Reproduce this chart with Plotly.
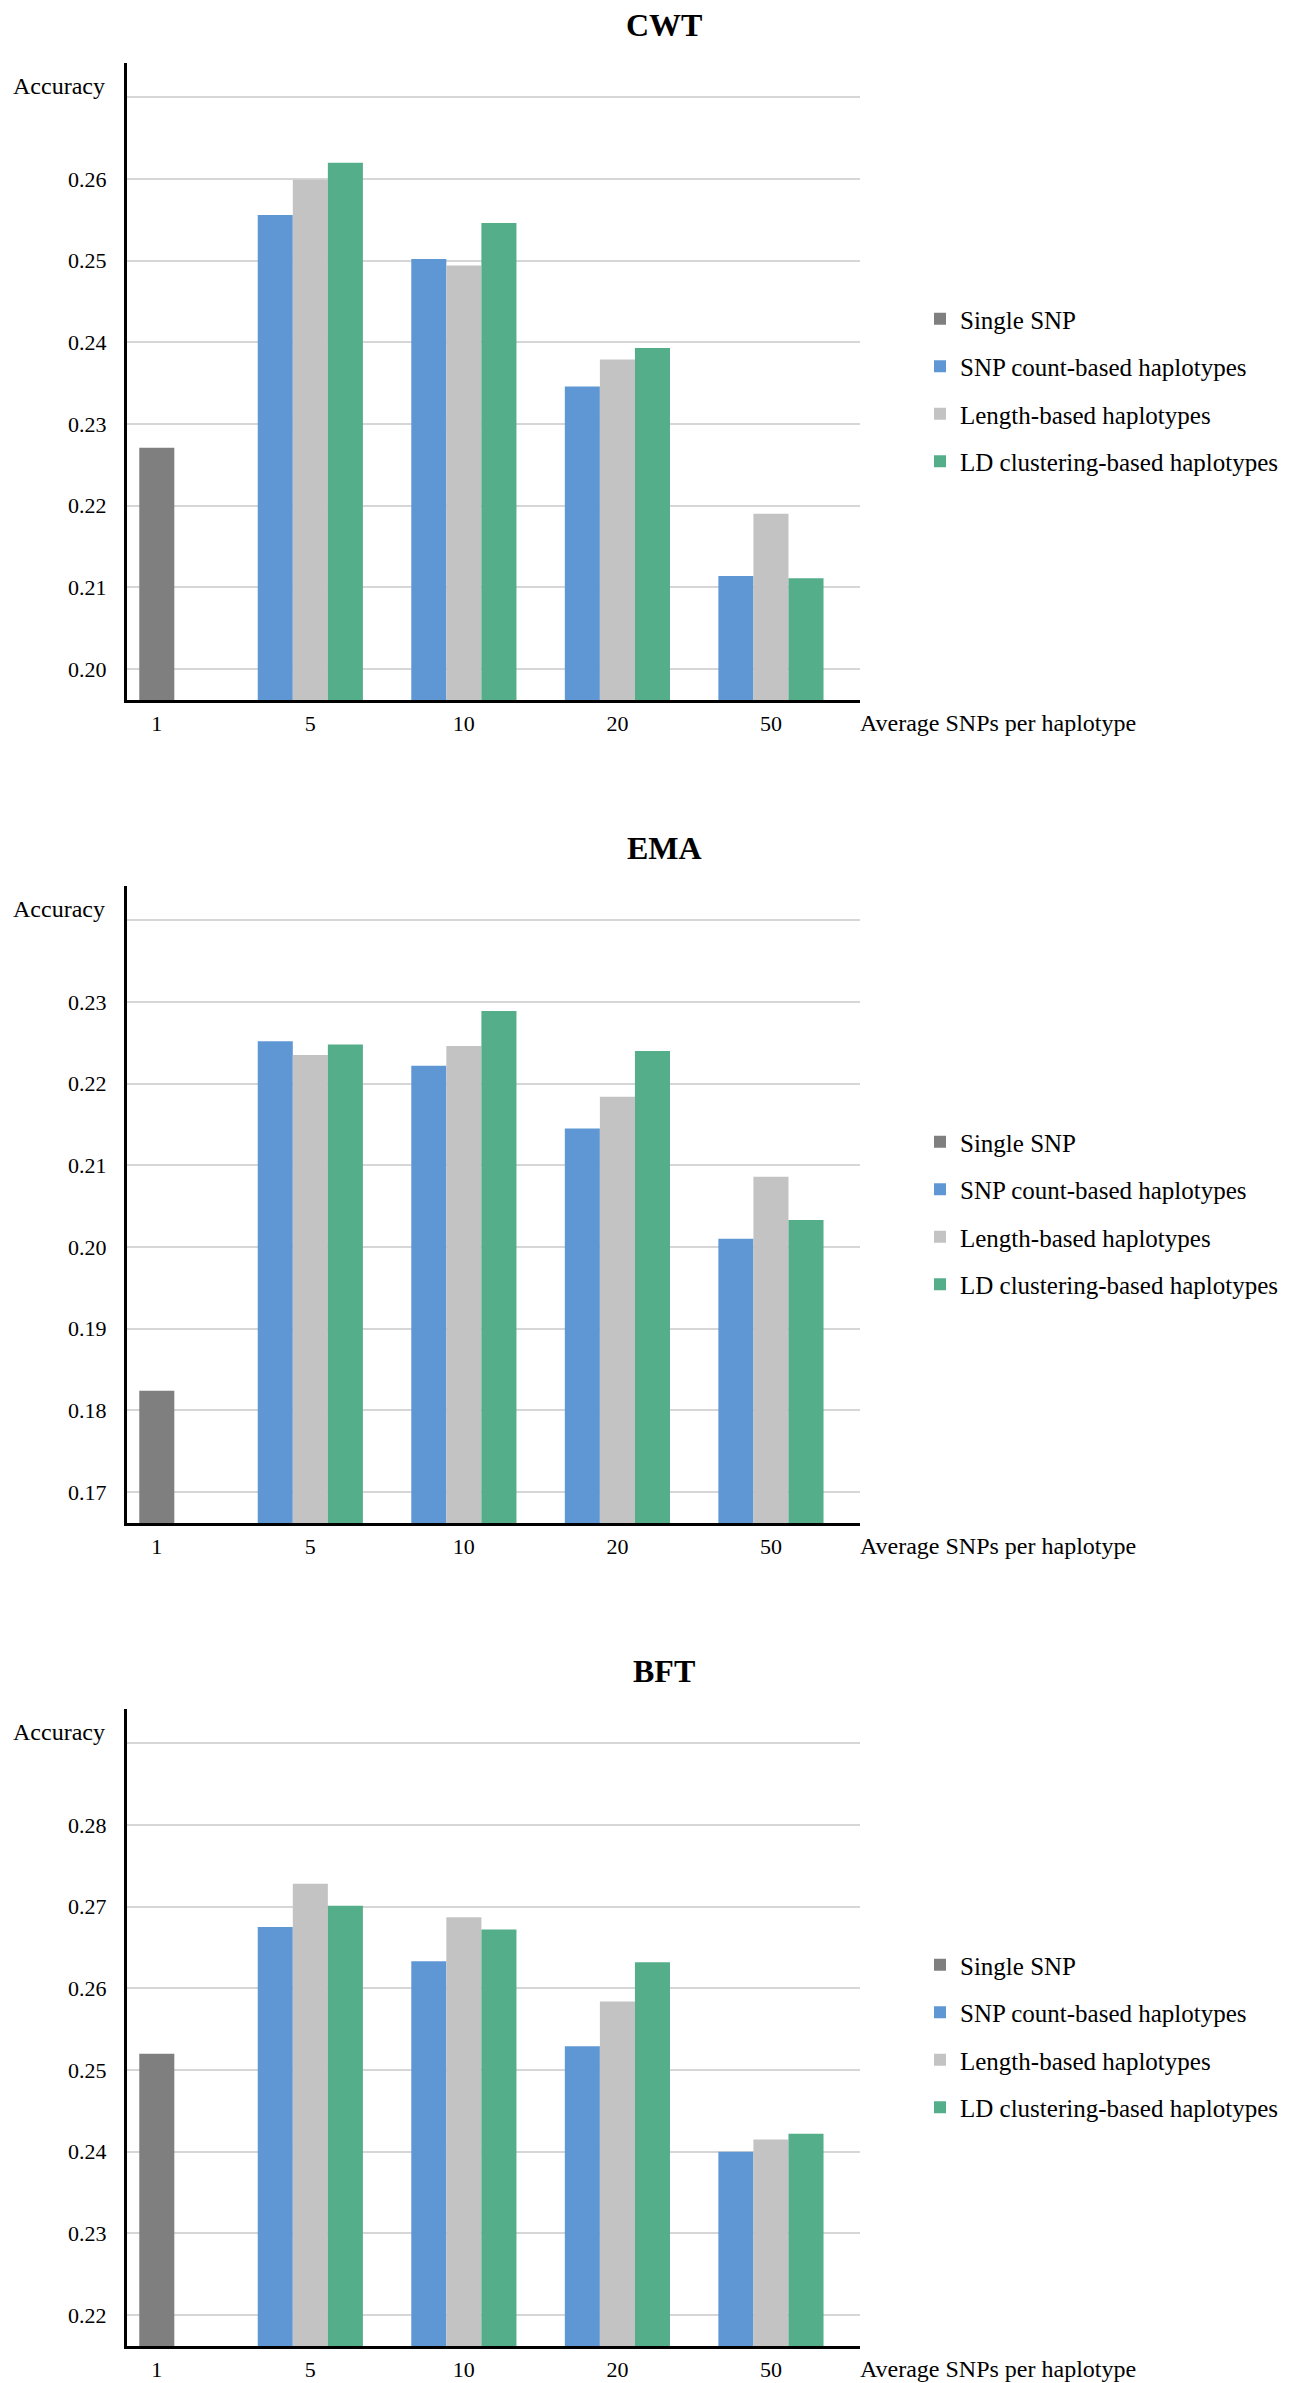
import plotly.graph_objects as go

# ---------------- data ----------------
categories = ["1", "5", "10", "20", "50"]
hap_categories = ["5", "10", "20", "50"]
series_names = ["Single SNP", "SNP count-based haplotypes",
                "Length-based haplotypes", "LD clustering-based haplotypes"]
panel_titles = ["CWT", "EMA", "BFT"]

cwt_single = [0.2271]
cwt_snp_count = [0.2556, 0.2502, 0.2346, 0.2114]
cwt_length = [0.2599, 0.2494, 0.2379, 0.2190]
cwt_ld = [0.2620, 0.2546, 0.2393, 0.2111]

ema_single = [0.1824]
ema_snp_count = [0.2252, 0.2222, 0.2145, 0.2010]
ema_length = [0.2235, 0.2246, 0.2184, 0.2086]
ema_ld = [0.2248, 0.2289, 0.2240, 0.2033]

bft_single = [0.2520]
bft_snp_count = [0.2675, 0.2633, 0.2529, 0.2400]
bft_length = [0.2728, 0.2687, 0.2584, 0.2415]
bft_ld = [0.2701, 0.2672, 0.2632, 0.2422]

cwt_ticks = [0.20, 0.21, 0.22, 0.23, 0.24, 0.25, 0.26, 0.27]
ema_ticks = [0.17, 0.18, 0.19, 0.20, 0.21, 0.22, 0.23, 0.24]
bft_ticks = [0.22, 0.23, 0.24, 0.25, 0.26, 0.27, 0.28, 0.29]

# ---------------- style ----------------
W, H = 1290, 2383
FONT = "Liberation Serif, Times New Roman, serif"
colors = ["#7f7f7f", "#5f97d5", "#c3c3c3", "#54ae8a"]
# slot of each series inside a category cluster (single SNP sits in the middle slot)
offsets = ["b", "a", "b", "c"]
# order in which traces are added, so slots a, b, c run left to right
draw_order = [1, 2, 3, 0]

panels = [
    (cwt_single, cwt_snp_count, cwt_length, cwt_ld, cwt_ticks),
    (ema_single, ema_snp_count, ema_length, ema_ld, ema_ticks),
    (bft_single, bft_snp_count, bft_length, bft_ld, bft_ticks),
]

# pixel layout of each panel (top of plot area, bottom of plot area)
panel_px = [(55, 692), (878, 1515), (1701, 2338)]
legend_center_px = [382, 1205, 2028]
x_left_px, x_right_px = 119, 852

fig = go.Figure()
layout = dict(
    width=W, height=H,
    margin=dict(l=0, r=0, t=0, b=0),
    paper_bgcolor="white", plot_bgcolor="white",
    barmode="group", bargap=0.315, bargroupgap=0.0,
    font=dict(family=FONT, color="black"),
    showlegend=True,
)

annotations = []
for k, (single, snpc, length, ld, ticks) in enumerate(panels):
    ax = "" if k == 0 else str(k + 1)
    xa, ya = "x" + ax, "y" + ax
    leg = "legend" + ax
    data_sets = [(["1"], single), (hap_categories, snpc),
                 (hap_categories, length), (hap_categories, ld)]
    for i in draw_order:
        xs, ys = data_sets[i]
        fig.add_trace(go.Bar(
            x=xs, y=ys, name=series_names[i],
            marker=dict(color=colors[i], line=dict(width=0)),
            offsetgroup=offsets[i], legendgroup=f"p{k}s{i}",
            legendrank=i + 1,
            xaxis=xa, yaxis=ya, legend=leg,
        ))

    top_px, bot_px = panel_px[k]
    dom_top = 1 - top_px / H
    dom_bot = 1 - bot_px / H
    step = 0.01
    px_per_step = 81.67
    span_px = bot_px - top_px
    lo = ticks[0] - 31 / px_per_step * step
    hi = lo + span_px / px_per_step * step

    layout["xaxis" + ax] = dict(
        domain=[x_left_px / W, x_right_px / W],
        anchor=ya, type="category",
        categoryorder="array", categoryarray=categories,
        range=[-0.194, 4.58],
        showline=True, linecolor="black", linewidth=3,
        showgrid=False, zeroline=False, ticks="",
        tickfont=dict(family=FONT, size=22, color="black"),
        ticklabelstandoff=2,
        fixedrange=True,
    )
    layout["yaxis" + ax] = dict(
        domain=[dom_bot, dom_top], anchor=xa,
        range=[lo, hi],
        tickvals=ticks,
        ticktext=[f"{v:.2f}" for v in ticks[:-1]] + [""],
        showline=True, linecolor="black", linewidth=3,
        showgrid=True, gridcolor="#d6d6d6", gridwidth=2,
        zeroline=False, ticks="",
        tickfont=dict(family=FONT, size=22, color="black"),
        ticklabelstandoff=13,
        fixedrange=True,
    )
    layout[leg] = dict(
        x=912 / W, xanchor="left",
        y=1 - legend_center_px[k] / H, yanchor="middle",
        font=dict(family=FONT, size=25, color="black"),
        bgcolor="rgba(0,0,0,0)", borderwidth=0,
        tracegroupgap=12, traceorder="grouped",
    )

    annotations.append(dict(
        text=f"<b>{panel_titles[k]}</b>", xref="paper", yref=ya + " domain",
        x=656 / W, y=1 + 38 / span_px, xanchor="center", yanchor="middle",
        showarrow=False, font=dict(family=FONT, size=32, color="black"),
    ))
    annotations.append(dict(
        text="Accuracy", xref="paper", yref=ya + " domain",
        x=3 / W, y=1 - 23 / span_px, xanchor="left", yanchor="middle",
        showarrow=False, font=dict(family=FONT, size=24, color="black"),
    ))
    annotations.append(dict(
        text="Average SNPs per haplotype", xref="paper", yref=ya + " domain",
        x=850 / W, y=-23 / span_px, xanchor="left", yanchor="middle",
        showarrow=False, font=dict(family=FONT, size=24, color="black"),
    ))

layout["annotations"] = annotations
fig.update_layout(**layout)
fig.write_html("out.html")
